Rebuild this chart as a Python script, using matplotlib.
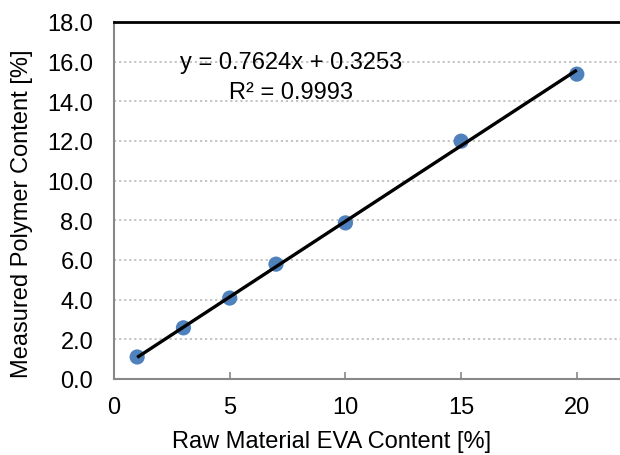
import matplotlib
matplotlib.use("Agg")
from matplotlib import pyplot as plt
import numpy as np

# data
eva_content = [1, 3, 5, 7, 10, 15, 20]
polymer_content = [1.11, 2.58, 4.08, 5.79, 7.87, 11.99, 15.37]

# trendline as printed on the chart
slope = 0.7624
intercept = 0.3253
r_squared = 0.9993

x_ticks = [0, 5, 10, 15, 20]
y_ticks = np.arange(0, 18.1, 2.0)

plt.rcParams['font.family'] = ['Liberation Sans', 'DejaVu Sans']

fig = plt.figure(figsize=(6.2, 4.56), dpi=100)
ax = fig.add_axes([0.1839, 0.1667, 0.8211, 0.7829])

ax.set_xlim(0, 22)
ax.set_ylim(0, 18)

# dotted horizontal grid
for y in y_ticks[1:-1]:
    ax.axhline(y, color='#bfbfbf', lw=1.3, ls=(0, (1.2, 1.6)), zorder=1)

x_fit = np.array([min(eva_content), max(eva_content)])
ax.plot(x_fit, slope * x_fit + intercept, color='black', lw=2.4, zorder=3,
        solid_capstyle='butt')
ax.scatter(eva_content, polymer_content, s=120, color='#4f81bd', zorder=2,
           edgecolors='none')

ax.text(2.85, 16.0, f'y = {slope}x + {intercept}', fontsize=17, va='center',
        ha='left')
ax.text(4.95, 14.45, f'R² = {r_squared}', fontsize=17, va='center', ha='left')

ax.spines['right'].set_visible(False)
ax.spines['top'].set_color('black')
ax.spines['top'].set_linewidth(2.0)
ax.spines['left'].set_color('#888888')
ax.spines['left'].set_linewidth(1.5)
ax.spines['bottom'].set_color('#888888')
ax.spines['bottom'].set_linewidth(1.5)

ax.set_xticks(x_ticks)
ax.set_yticks(y_ticks)
ax.set_yticklabels([f'{v:.1f}' for v in y_ticks])
ax.tick_params(axis='x', direction='in', length=5, width=1.2, color='#888888',
               labelsize=17, pad=12)
ax.tick_params(axis='y', length=0, labelsize=17, pad=15)

ax.set_xlabel('Raw Material EVA Content [%]', fontsize=17, labelpad=9, x=0.428)
ax.set_ylabel('Measured Polymer Content [%]', fontsize=17, labelpad=10, y=0.465)

fig.savefig('out.png', dpi=100)
